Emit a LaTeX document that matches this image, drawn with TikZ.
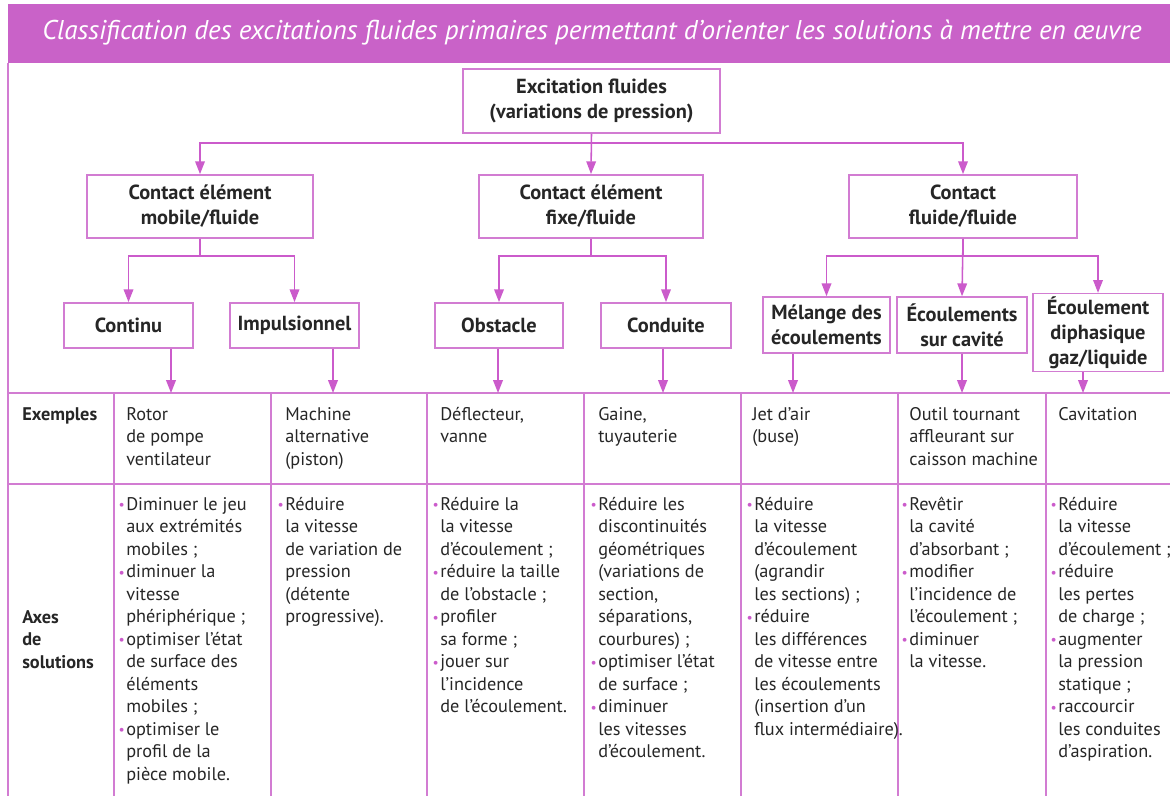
\documentclass[tikz,border=0pt]{standalone}
\usepackage{fontspec}
\setmainfont{PT Sans}
\usepackage{xcolor}
\usepackage{graphicx}
\usepackage{tikz}
\usetikzlibrary{
  arrows.meta,
  positioning,
  calc
}
\definecolor{flTitre}{HTML}{C962C8}
\definecolor{flTrait}{HTML}{D27CD2}
\definecolor{flFleche}{HTML}{CB5BCB}
\definecolor{flTexte}{HTML}{262626}
\newcommand{\puce}{\llap{\textcolor{flFleche}{\raisebox{0.05ex}{\scalebox{0.75}{•}}}\hspace{1pt}}}
\tikzset{
  flnode/.style={
    draw=flTrait, line width=1.1pt, fill=white, align=center, inner sep=2pt,
    font=\fontsize{14.5}{17.8}\selectfont\bfseries, text=flTexte
  },
  racine/.style={flnode, minimum width=6.43cm, minimum height=1.6cm},
  famille/.style={flnode, minimum width=5.65cm, minimum height=1.58cm},
  source/.style={flnode, minimum width=3.23cm, minimum height=1.13cm},
  source2/.style={flnode, minimum width=3.2cm, minimum height=1.4cm},
  fleche/.style={-{Triangle[length=3.2mm, width=2.4mm]}, line width=1.1pt, flFleche},
  trait/.style={line width=1.1pt, flTrait},
  cellule/.style={anchor=north west, inner sep=0pt, align=left,
    font=\fontsize{13}{16}\selectfont, text=flTexte},
  entete/.style={cellule, font=\fontsize{13}{16}\selectfont\bfseries},
  titre/.style={font=\fontsize{19.3}{22}\selectfont\itshape, text=white, inner sep=0pt}
}

\begin{document}
\begin{tikzpicture}[x=0.025cm, y=-0.025cm]
  \useasboundingbox (0,0) rectangle (1170,796);
  \fill[flTitre] (8,4) rectangle (1170,63);
  \node[titre] (t) at (592,33)
    {Classification des excitations fluides primaires permettant d’orienter les solutions à mettre en œuvre};

  % arbre
  \node[racine] (exc) at (591.5,101) {Excitation fluides\\(variations de pression)};
  \node[famille] (mob) at (200,206.5) {Contact élément\\mobile/fluide};
  \node[famille, minimum width=5.6cm] (fix) at (591,206.5) {Contact élément\\fixe/fluide};
  \node[famille, minimum width=5.7cm] (flu) at (963,206.5) {Contact\\fluide/fluide};
  \node[source] (cont) at (128.5,325.5) {Continu};
  \node[source] (imp) at (294.5,325.5) {Impulsionnel};
  \node[source, minimum width=3.2cm] (obs) at (499,325.5) {Obstacle};
  \node[source, minimum width=3.25cm] (cond) at (666,325.5) {Conduite};
  \node[source2, minimum width=3.18cm] (mel) at (826.5,325) {Mélange des\\écoulements};
  \node[source2, minimum width=3.25cm] (cav) at (962,325) {Écoulements\\sur cavité};
  \node[source2, minimum width=3.25cm, minimum height=1.78cm] (dip) at (1098,332.5)
    {Écoulement\\diphasique\\gaz/liquide};

  \draw[fleche] (exc.south) -- ++(0,9) -| (mob.north);
  \draw[fleche] (exc.south) -- (fix.north);
  \draw[fleche] (exc.south) -- ++(0,9) -| (flu.north);
  \draw[fleche] (mob.south) -- ++(0,17) -| (cont.north);
  \draw[fleche] (mob.south) -- ++(0,17) -| (imp.north);
  \draw[fleche] (fix.south) -- ++(0,17) -| (obs.north);
  \draw[fleche] (fix.south) -- ++(0,17) -| (cond.north);
  \draw[fleche] (flu.south) -- ++(0,17) -| (mel.north);
  \draw[fleche] (flu.south) -- (cav.north);
  \draw[fleche] (flu.south) -- ++(0,17) -| (dip.north);

  % tableau
  \draw[trait] (8,63) -- (8,796);
  \draw[trait] (8,393) -- (1170,393);
  \draw[trait] (8,484) -- (1170,484);
  \foreach \x in {114,271,427,584,741,898,1046}
    \draw[trait] (\x,393) -- (\x,796);
  \foreach \n/\x in {cont/171, imp/333, obs/498, cond/663, mel/793, cav/962, dip/1083} {
    \coordinate (e-\n) at (\x,393);
    \draw[fleche] (\n.south -| e-\n) -- (e-\n);
  }

  \node[entete] (ex) at (22,404) {\strut Exemples};
  \node[entete] (ax) at (22,607) {\strut Axes\\de\\solutions};

  \node[cellule] (ex1) at (126,404) {\strut Rotor\\de pompe\\ventilateur};
  \node[cellule] (ex2) at (285,404) {\strut Machine\\alternative\\(piston)};
  \node[cellule] (ex3) at (440,404) {\strut Déflecteur,\\vanne};
  \node[cellule] (ex4) at (598,404) {\strut Gaine,\\tuyauterie};
  \node[cellule] (ex5) at (752,404) {\strut Jet d’air\\(buse)};
  \node[cellule] (ex6) at (909,404) {\strut Outil tournant\\affleurant sur\\caisson machine};
  \node[cellule] (ex7) at (1058,404) {\strut Cavitation};

  \node[cellule] (ax1) at (126,494) {\strut\puce Diminuer le jeu\\aux extrémités\\mobiles ;\\\puce diminuer la\\vitesse\\phériphérique ;\\\puce optimiser l’état\\de surface des\\éléments\\mobiles ;\\\puce optimiser le\\profil de la\\pièce mobile.};
  \node[cellule] (ax2) at (285,494) {\strut\puce Réduire\\la vitesse\\de variation de\\pression\\(détente\\progressive).};
  \node[cellule] (ax3) at (440,494) {\strut\puce Réduire la\\la vitesse\\d’écoulement ;\\\puce réduire la taille\\de l’obstacle ;\\\puce profiler\\sa forme ;\\\puce jouer sur\\l’incidence\\de l’écoulement.};
  \node[cellule] (ax4) at (598,494) {\strut\puce Réduire les\\discontinuités\\géométriques\\(variations de\\section,\\séparations,\\courbures) ;\\\puce optimiser l’état\\de surface ;\\\puce diminuer\\les vitesses\\d’écoulement.};
  \node[cellule] (ax5) at (754,494) {\strut\puce Réduire\\la vitesse\\d’écoulement\\(agrandir\\les sections) ;\\\puce réduire\\les différences\\de vitesse entre\\les écoulements\\(insertion d’un\\flux intermédiaire).};
  \node[cellule] (ax6) at (909,494) {\strut\puce Revêtir\\la cavité\\d’absorbant ;\\\puce modifier\\l’incidence de\\l’écoulement ;\\\puce diminuer\\la vitesse.};
  \node[cellule] (ax7) at (1058,494) {\strut\puce Réduire\\la vitesse\\d’écoulement ;\\\puce réduire\\les pertes\\de charge ;\\\puce augmenter\\la pression\\statique ;\\\puce raccourcir\\les conduites\\d’aspiration.};
\end{tikzpicture}
\end{document}
